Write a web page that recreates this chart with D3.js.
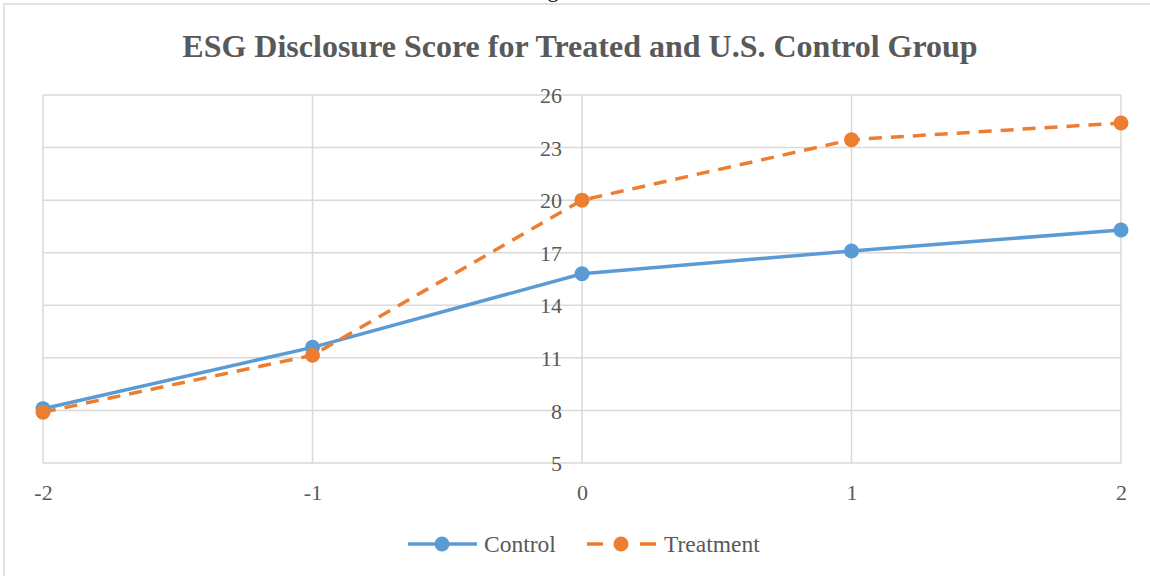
<!DOCTYPE html>
<html>
<head>
<meta charset="utf-8">
<script src="https://cdn.jsdelivr.net/npm/d3@7"></script>
<style>
  body { margin: 0; background: #fff; }
  svg { display: block; }
  text { font-family: "Liberation Serif", "Times New Roman", serif; fill: #595959; }
</style>
</head>
<body>
<div id="chart"></div>
<script>
var svgWidth = 1150;
var svgHeight = 576;

// data
var years = [-2, -1, 0, 1, 2];
var control = [8.1, 11.6, 15.8, 17.1, 18.3];
var treatment = [7.9, 11.15, 20.0, 23.45, 24.4];
var yTicks = [5, 8, 11, 14, 17, 20, 23, 26];

var margin = { top: 95, right: 30, bottom: 113, left: 43 };
var width = 1121 - margin.left;
var height = 463 - margin.top;

var svg = d3.select("#chart")
  .append("svg")
  .attr("width", svgWidth)
  .attr("height", svgHeight);

// chart border (left/top visible)
svg.append("rect")
  .attr("x", 4).attr("y", 4)
  .attr("width", 1160).attr("height", 600)
  .attr("fill", "none")
  .attr("stroke", "#d9d9d9")
  .attr("stroke-width", 1.5);

// cut-off caption above the chart (only its descender shows)
svg.append("text")
  .attr("x", 553).attr("y", -3)
  .attr("text-anchor", "middle")
  .attr("font-size", "22px")
  .style("fill", "#000")
  .text("g");

svg.append("text")
  .attr("x", 580).attr("y", 57)
  .attr("text-anchor", "middle")
  .attr("font-size", "32px")
  .attr("font-weight", "bold")
  .text("ESG Disclosure Score for Treated and U.S. Control Group");

var chartGroup = svg.append("g")
  .attr("transform", `translate(${margin.left}, ${margin.top})`);

var xScale = d3.scaleLinear()
  .domain([-2, 2])
  .range([0, width]);

var yScale = d3.scaleLinear()
  .domain([5, 26])
  .range([height, 0]);

// horizontal gridlines
chartGroup.append("g")
  .selectAll("line")
  .data(yTicks)
  .enter()
  .append("line")
  .attr("x1", 0).attr("x2", width)
  .attr("y1", d => yScale(d)).attr("y2", d => yScale(d))
  .attr("stroke", "#d9d9d9")
  .attr("stroke-width", 1.5);

// vertical gridlines
chartGroup.append("g")
  .selectAll("line")
  .data(years)
  .enter()
  .append("line")
  .attr("x1", d => xScale(d)).attr("x2", d => xScale(d))
  .attr("y1", 0).attr("y2", height)
  .attr("stroke", "#d9d9d9")
  .attr("stroke-width", 1.5);

// y axis labels, sitting left of the x=0 line
var leftAxis = d3.axisLeft(yScale).tickValues(yTicks).tickSize(0).tickPadding(20);
var yAxisG = chartGroup.append("g")
  .attr("transform", `translate(${xScale(0)},0)`)
  .call(leftAxis);
yAxisG.select(".domain").remove();
yAxisG.selectAll("text")
  .attr("font-family", null)
  .attr("font-size", "22px")
  .attr("dy", "0.35em")
  .style("fill", "#595959");

var bottomAxis = d3.axisBottom(xScale).tickValues(years).tickSize(0).tickPadding(21)
  .tickFormat(d3.format("d"));
var xAxisG = chartGroup.append("g")
  .attr("transform", `translate(0,${height})`)
  .call(bottomAxis);
xAxisG.select(".domain").remove();
xAxisG.selectAll("text")
  .attr("font-family", null)
  .attr("font-size", "22px")
  .text(d => d < 0 ? "-" + Math.abs(d) : d)
  .style("fill", "#595959");

var line = d3.line()
  .x((d, i) => xScale(years[i]))
  .y(d => yScale(d));

chartGroup.append("path")
  .datum(control)
  .attr("d", line)
  .attr("fill", "none")
  .attr("stroke", "#5b9bd5")
  .attr("stroke-width", 3.5);

chartGroup.append("path")
  .datum(treatment)
  .attr("d", line)
  .attr("fill", "none")
  .attr("stroke", "#ed7d31")
  .attr("stroke-width", 3.5)
  .attr("stroke-dasharray", "13,9");

chartGroup.append("g")
  .selectAll("circle")
  .data(control)
  .enter()
  .append("circle")
  .attr("cx", (d, i) => xScale(years[i]))
  .attr("cy", d => yScale(d))
  .attr("r", 7.5)
  .attr("fill", "#5b9bd5");

chartGroup.append("g")
  .selectAll("circle")
  .data(treatment)
  .enter()
  .append("circle")
  .attr("cx", (d, i) => xScale(years[i]))
  .attr("cy", d => yScale(d))
  .attr("r", 7.5)
  .attr("fill", "#ed7d31");

// legend
var legend = svg.append("g");
legend.append("line")
  .attr("x1", 408).attr("x2", 477).attr("y1", 544).attr("y2", 544)
  .attr("stroke", "#5b9bd5").attr("stroke-width", 3.5);
legend.append("circle")
  .attr("cx", 442).attr("cy", 544).attr("r", 7.5)
  .attr("fill", "#5b9bd5");
legend.append("text")
  .attr("x", 484).attr("y", 552)
  .attr("font-size", "23.5px")
  .text("Control");

legend.append("line")
  .attr("x1", 587).attr("x2", 656).attr("y1", 544).attr("y2", 544)
  .attr("stroke", "#ed7d31").attr("stroke-width", 3.5)
  .attr("stroke-dasharray", "16,37");
legend.append("circle")
  .attr("cx", 621).attr("cy", 544).attr("r", 7.5)
  .attr("fill", "#ed7d31");
legend.append("text")
  .attr("x", 664).attr("y", 552)
  .attr("font-size", "23.5px")
  .text("Treatment");
</script>
</body>
</html>
